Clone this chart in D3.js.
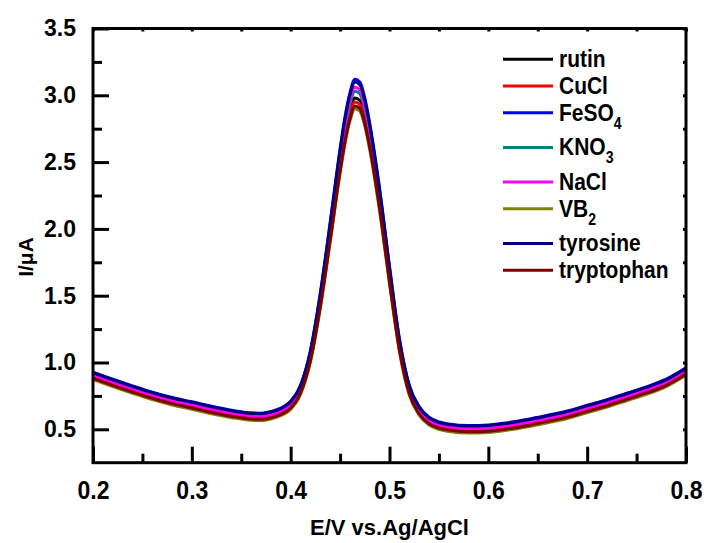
<!DOCTYPE html>
<html>
<head>
<meta charset="utf-8">
<script src="https://cdn.jsdelivr.net/npm/d3@7/dist/d3.min.js"></script>
<style>
  body { margin: 0; background: #fff; }
  text { font-family: "Liberation Sans", Arial, sans-serif; font-weight: bold; fill: #000; }
</style>
</head>
<body>
<div id="chart"></div>
<script>

//data (E in V, I in uA)

const potential = [0.20, 0.22, 0.24, 0.26, 0.28, 0.30, 0.32, 0.34, 0.36, 0.37, 0.38, 0.39,
                   0.40, 0.41, 0.42, 0.43, 0.44, 0.45, 0.455, 0.46, 0.465, 0.47, 0.475, 0.48,
                   0.49, 0.50, 0.51, 0.52, 0.53, 0.54, 0.55, 0.56, 0.58, 0.60, 0.62, 0.64,
                   0.66, 0.68, 0.70, 0.72, 0.74, 0.76, 0.78, 0.80];

const rutin = [0.898, 0.845, 0.795, 0.748, 0.708, 0.676, 0.642, 0.613, 0.593, 0.591, 0.603, 0.628,
               0.677, 0.791, 1.039, 1.450, 1.957, 2.483, 2.712, 2.884, 2.980, 2.961, 2.847, 2.665,
               2.196, 1.641, 1.123, 0.788, 0.635, 0.558, 0.525, 0.510, 0.498, 0.502, 0.520, 0.545,
               0.575, 0.607, 0.650, 0.692, 0.740, 0.788, 0.845, 0.930];

const cucl = [0.892, 0.839, 0.789, 0.742, 0.702, 0.670, 0.636, 0.607, 0.587, 0.585, 0.597, 0.622,
              0.670, 0.783, 1.029, 1.436, 1.938, 2.458, 2.685, 2.855, 2.950, 2.931, 2.818, 2.639,
              2.174, 1.624, 1.111, 0.779, 0.627, 0.551, 0.519, 0.504, 0.492, 0.496, 0.514, 0.539,
              0.569, 0.601, 0.644, 0.686, 0.734, 0.782, 0.839, 0.924];

const feso4 = [0.928, 0.875, 0.825, 0.778, 0.738, 0.706, 0.672, 0.643, 0.623, 0.621, 0.633, 0.658,
               0.710, 0.830, 1.090, 1.520, 2.050, 2.600, 2.840, 3.020, 3.120, 3.100, 2.980, 2.790,
               2.300, 1.720, 1.180, 0.830, 0.670, 0.590, 0.555, 0.540, 0.528, 0.532, 0.550, 0.575,
               0.605, 0.637, 0.680, 0.722, 0.770, 0.818, 0.875, 0.960];

const kno3 = [0.916, 0.863, 0.813, 0.766, 0.726, 0.694, 0.660, 0.631, 0.611, 0.609, 0.621, 0.646,
              0.696, 0.812, 1.063, 1.480, 1.994, 2.526, 2.759, 2.933, 3.030, 3.011, 2.895, 2.711,
              2.236, 1.673, 1.149, 0.809, 0.654, 0.576, 0.543, 0.528, 0.516, 0.520, 0.538, 0.563,
              0.593, 0.625, 0.668, 0.710, 0.758, 0.806, 0.863, 0.948];

const nacl = [0.906, 0.853, 0.803, 0.756, 0.716, 0.684, 0.650, 0.621, 0.601, 0.599, 0.611, 0.636,
              0.687, 0.805, 1.061, 1.484, 2.006, 2.548, 2.784, 2.962, 3.060, 3.040, 2.922, 2.735,
              2.253, 1.681, 1.149, 0.804, 0.646, 0.567, 0.533, 0.518, 0.506, 0.510, 0.528, 0.553,
              0.583, 0.615, 0.658, 0.700, 0.748, 0.796, 0.853, 0.938];

const vb2 = [0.872, 0.819, 0.769, 0.722, 0.682, 0.650, 0.616, 0.587, 0.567, 0.565, 0.577, 0.602,
             0.649, 0.761, 1.003, 1.405, 1.901, 2.414, 2.638, 2.807, 2.900, 2.882, 2.770, 2.593,
             2.134, 1.590, 1.083, 0.756, 0.606, 0.531, 0.499, 0.484, 0.472, 0.476, 0.494, 0.519,
             0.549, 0.581, 0.624, 0.666, 0.714, 0.762, 0.819, 0.904];

const tyrosine = [0.924, 0.871, 0.821, 0.774, 0.734, 0.702, 0.668, 0.639, 0.619, 0.617, 0.629, 0.654,
                  0.706, 0.825, 1.083, 1.510, 2.037, 2.583, 2.822, 3.001, 3.100, 3.080, 2.961, 2.772,
                  2.285, 1.709, 1.172, 0.824, 0.665, 0.586, 0.551, 0.536, 0.524, 0.528, 0.546, 0.571,
                  0.601, 0.633, 0.676, 0.718, 0.766, 0.814, 0.871, 0.956];

const tryptophan = [0.882, 0.829, 0.779, 0.732, 0.692, 0.660, 0.626, 0.597, 0.577, 0.575, 0.587, 0.612,
                    0.659, 0.772, 1.015, 1.419, 1.916, 2.432, 2.657, 2.826, 2.920, 2.902, 2.789, 2.612,
                    2.151, 1.605, 1.096, 0.767, 0.616, 0.541, 0.509, 0.494, 0.482, 0.486, 0.504, 0.529,
                    0.559, 0.591, 0.634, 0.676, 0.724, 0.772, 0.829, 0.914];

const seriesNames = ["rutin", "CuCl", "FeSO4", "KNO3", "NaCl", "VB2", "tyrosine", "tryptophan"];
const seriesValues = [rutin, cucl, feso4, kno3, nacl, vb2, tyrosine, tryptophan];

//tick values
const xMajor = [0.2, 0.3, 0.4, 0.5, 0.6, 0.7, 0.8];
const xMinor = [0.25, 0.35, 0.45, 0.55, 0.65, 0.75];
const yMajor = [0.5, 1.0, 1.5, 2.0, 2.5, 3.0, 3.5];
const yMinor = [0.75, 1.25, 1.75, 2.25, 2.75, 3.25];

//styles
const colors = ["#000000", "#ff0000", "#0000ff", "#008080", "#ff00ff", "#808000", "#000080", "#800000"];

//The Layout of the graph

const dims = {width: 707, height: 543};
const plot = {left: 93, right: 686, top: 28.5, bottom: 462.7};

const svg = d3.select("#chart")
            .append("svg")
            .attr("width", dims.width)
            .attr("height", dims.height);

const x = d3.scaleLinear().domain([0.2, 0.8]).range([plot.left, plot.right]);
const y = d3.scaleLinear().domain([0.25, 3.5]).range([plot.bottom, plot.top]);

//curves

const line = d3.line()
            .x((d, i) => x(potential[i]))
            .y(d => y(d))
            .curve(d3.curveMonotoneX);

svg.append("g")
   .selectAll("path")
   .data(seriesValues)
   .enter()
   .append("path")
   .attr("fill", "none")
   .attr("stroke", (d, i) => colors[i])
   .attr("stroke-width", 3)
   .attr("stroke-linejoin", "round")
   .attr("d", line);

//axes (ticks point inward)

const styleAxis = g => {
    g.select(".domain").remove();
    g.selectAll(".tick line").attr("stroke", "#000").attr("stroke-width", 3);
    g.selectAll(".tick text")
     .style("font-family", "'Liberation Sans', Arial, sans-serif")
     .style("font-weight", "bold")
     .style("font-size", "23px")
     .attr("fill", "#000");
};

svg.append("g")
   .attr("transform", `translate(0, ${plot.bottom})`)
   .call(d3.axisBottom(x).tickValues(xMajor).tickSize(-16).tickSizeOuter(0).tickFormat(d3.format(".1f")))
   .call(styleAxis)
   .call(g => g.selectAll(".tick text")
               .attr("y", 0).attr("dy", 0)
               .attr("transform", "translate(0, 36.5) scale(1, 1.15)"));

svg.append("g")
   .attr("transform", `translate(0, ${plot.bottom})`)
   .call(d3.axisBottom(x).tickValues(xMinor).tickSize(-9).tickSizeOuter(0).tickFormat(""))
   .call(styleAxis);

svg.append("g")
   .attr("transform", `translate(${plot.left}, 0)`)
   .call(d3.axisLeft(y).tickValues(yMajor).tickSize(-16).tickSizeOuter(0).tickPadding(17).tickFormat(d3.format(".1f")))
   .call(styleAxis);

svg.append("g")
   .attr("transform", `translate(${plot.left}, 0)`)
   .call(d3.axisLeft(y).tickValues(yMinor).tickSize(-9).tickSizeOuter(0).tickFormat(""))
   .call(styleAxis);

//short ticks on top and right

svg.append("g")
   .attr("transform", `translate(0, ${plot.top})`)
   .call(d3.axisTop(x).tickValues(xMajor.concat(xMinor)).tickSize(-3).tickSizeOuter(0).tickFormat(""))
   .call(styleAxis);

svg.append("g")
   .attr("transform", `translate(${plot.right}, 0)`)
   .call(d3.axisRight(y).tickValues(yMajor.concat(yMinor)).tickSize(-3).tickSizeOuter(0).tickFormat(""))
   .call(styleAxis);

//frame

svg.append("rect")
   .attr("x", plot.left)
   .attr("y", plot.top)
   .attr("width", plot.right - plot.left)
   .attr("height", plot.bottom - plot.top)
   .attr("fill", "none")
   .attr("stroke", "#000")
   .attr("stroke-width", 3);

//axis titles

svg.append("text")
   .attr("x", (plot.left + plot.right) / 2)
   .attr("y", 535)
   .attr("text-anchor", "middle")
   .style("font-size", "22px")
   .text("E/V vs.Ag/AgCl");

svg.append("text")
   .attr("transform", "translate(33, 257) rotate(-90)")
   .attr("text-anchor", "middle")
   .style("font-size", "21px")
   .text("I/\u03bcA");

//legend

const legend = svg.append("g").attr("class", "legend");
let rowY = 59.3;

seriesNames.forEach((name, i) => {
    const parts = name.match(/^(.*?)(\d*)$/);
    const row = legend.append("g").attr("transform", `translate(0, ${rowY})`);

    row.append("line")
       .attr("x1", 503).attr("x2", 553)
       .attr("y1", 0).attr("y2", 0)
       .attr("stroke", colors[i])
       .attr("stroke-width", 3);

    const label = row.append("text")
       .attr("transform", "translate(559, 7.8) scale(1, 1.15)")
       .style("font-size", "21px")
       .text(parts[1]);

    if (parts[2]) {
        label.append("tspan")
             .attr("dy", 7)
             .style("font-size", "14px")
             .text(parts[2]);
    }

    rowY += parts[2] ? 34.7 : 26.7;
});

</script>
</body>
</html>
